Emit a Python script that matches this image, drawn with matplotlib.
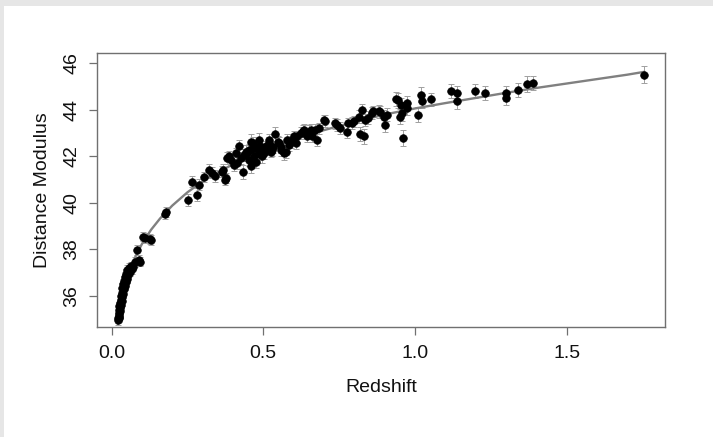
import matplotlib
matplotlib.use("Agg")
import matplotlib.pyplot as plt
from matplotlib.patches import Rectangle

plt.rcParams['font.family'] = ['Liberation Sans', 'DejaVu Sans']

# ---- data ----
redshift = [
    0.020, 0.022, 0.023, 0.024, 0.024, 0.025, 0.026, 0.026, 0.027, 0.028,
    0.029, 0.030, 0.031, 0.032, 0.033, 0.034, 0.035, 0.036, 0.037, 0.038,
    0.040, 0.041, 0.043, 0.044, 0.046, 0.048, 0.050, 0.052, 0.055, 0.057,
    0.060, 0.063, 0.066, 0.071, 0.076, 0.085, 0.090, 0.093, 0.104, 0.109,
    0.126, 0.129,
    0.175, 0.180, 0.251, 0.266, 0.282, 0.287, 0.304, 0.322, 0.330, 0.341,
    0.363, 0.366, 0.374, 0.377, 0.382, 0.388, 0.395, 0.404, 0.410, 0.415,
    0.420, 0.426, 0.432, 0.437, 0.443, 0.448, 0.452, 0.453, 0.459, 0.459,
    0.462, 0.465, 0.470, 0.475, 0.478, 0.481, 0.485, 0.486, 0.490, 0.497,
    0.500, 0.503, 0.508, 0.515, 0.519, 0.520, 0.525, 0.530, 0.532, 0.540,
    0.548, 0.552, 0.557, 0.560, 0.568, 0.574, 0.579, 0.585, 0.590, 0.596,
    0.601, 0.607, 0.612, 0.623, 0.630, 0.634, 0.645, 0.650, 0.656, 0.661,
    0.672, 0.678, 0.683, 0.699, 0.705, 0.738, 0.743, 0.754, 0.776, 0.780,
    0.792, 0.798, 0.814, 0.820, 0.825, 0.831, 0.836, 0.845, 0.858, 0.863,
    0.880, 0.885, 0.898, 0.902, 0.907, 0.938, 0.945, 0.951, 0.953, 0.956,
    0.962, 0.973, 0.973, 1.011, 1.019, 1.022, 1.054, 1.120, 1.140, 1.140,
    1.199, 1.230, 1.300, 1.300, 1.339, 1.368, 1.388, 1.755,
]
distance_modulus = [
    35.05, 34.95, 35.20, 35.05, 35.40, 35.25, 35.10, 35.55, 35.35, 35.70,
    35.50, 35.85, 35.60, 36.00, 35.80, 36.15, 35.95, 36.35, 36.10, 36.50,
    36.30, 36.65, 36.45, 36.80, 36.60, 36.95, 36.75, 37.10, 36.90, 37.20,
    37.05, 37.30, 37.15, 37.26, 37.45, 37.98, 37.55, 37.47, 38.55, 38.50,
    38.44, 38.40,
    39.50, 39.62, 40.13, 40.91, 40.34, 40.77, 41.10, 41.42, 41.30, 41.15,
    41.34, 41.42, 41.00, 41.06, 41.92, 41.99, 41.85, 41.63, 42.13, 41.70,
    42.42, 41.92, 41.31, 42.06, 42.20, 42.13, 41.85, 42.27, 41.56, 42.63,
    42.30, 42.56, 42.00, 41.75, 42.35, 42.27, 42.10, 42.70, 42.45, 41.99,
    42.25, 42.13, 42.42, 42.30, 42.70, 42.55, 42.20, 42.27, 42.40, 42.95,
    42.60, 42.56, 42.27, 42.40, 42.13, 42.20, 42.70, 42.49, 42.60, 42.70,
    42.85, 42.56, 42.85, 43.00, 43.10, 43.13, 42.85, 43.06, 43.13, 42.85,
    43.13, 42.70, 43.20, 43.56, 43.50, 43.42, 43.35, 43.20, 43.06, 43.42,
    43.42, 43.49, 43.70, 42.95, 43.99, 42.85, 43.56, 43.65, 43.85, 43.92,
    43.92, 43.88, 43.70, 43.35, 43.78, 44.45, 44.40, 43.70, 44.20, 43.85,
    42.78, 44.28, 44.07, 43.78, 44.64, 44.35, 44.45, 44.78, 44.70, 44.35,
    44.82, 44.71, 44.71, 44.50, 44.85, 45.10, 45.14, 45.50,
]
mu_error = [
    0.20, 0.18, 0.22, 0.17, 0.20, 0.19, 0.21, 0.18, 0.20, 0.17,
    0.19, 0.22, 0.18, 0.20, 0.21, 0.17, 0.19, 0.20, 0.18, 0.22,
    0.19, 0.20, 0.18, 0.21, 0.19, 0.20, 0.18, 0.22, 0.19, 0.20,
    0.21, 0.18, 0.20, 0.19, 0.22, 0.20, 0.21, 0.19, 0.20, 0.22,
    0.21, 0.20,
    0.20, 0.22, 0.25, 0.22, 0.28, 0.24, 0.22, 0.24, 0.22, 0.25,
    0.22, 0.24, 0.25, 0.23, 0.25, 0.22, 0.24, 0.26, 0.23, 0.25,
    0.28, 0.24, 0.30, 0.25, 0.26, 0.24, 0.27, 0.25, 0.30, 0.32,
    0.26, 0.28, 0.25, 0.27, 0.24, 0.26, 0.25, 0.28, 0.24, 0.26,
    0.25, 0.27, 0.24, 0.26, 0.25, 0.26, 0.24, 0.25, 0.26, 0.30,
    0.25, 0.26, 0.24, 0.25, 0.28, 0.26, 0.24, 0.25, 0.26, 0.24,
    0.25, 0.26, 0.24, 0.25, 0.26, 0.24, 0.25, 0.26, 0.24, 0.25,
    0.26, 0.25, 0.24, 0.22, 0.25, 0.24, 0.26, 0.25, 0.27, 0.24,
    0.26, 0.25, 0.27, 0.30, 0.26, 0.32, 0.25, 0.27, 0.26, 0.25,
    0.27, 0.26, 0.28, 0.30, 0.27, 0.30, 0.32, 0.31, 0.30, 0.33,
    0.35, 0.30, 0.31, 0.32, 0.31, 0.30, 0.28, 0.30, 0.31, 0.33,
    0.30, 0.29, 0.32, 0.31, 0.30, 0.33, 0.30, 0.36,
]
# fitted model curve
fit_redshift = [0.021, 0.025, 0.03, 0.04, 0.05, 0.06, 0.08, 0.10, 0.13, 0.16,
                0.20, 0.25, 0.30, 0.35, 0.40, 0.50, 0.60, 0.70, 0.80, 0.90,
                1.00, 1.10, 1.20, 1.30, 1.40, 1.50, 1.60, 1.70, 1.755]
fit_modulus = [34.80, 35.17, 35.57, 36.20, 36.69, 37.09, 37.73, 38.23, 38.84, 39.33,
               39.88, 40.45, 40.92, 41.31, 41.65, 42.23, 42.71, 43.12, 43.47, 43.79,
               44.05, 44.28, 44.50, 44.72, 44.93, 45.12, 45.31, 45.50, 45.62]

x_ticks = [0.0, 0.5, 1.0, 1.5]
x_tick_labels = ["0.0", "0.5", "1.0", "1.5"]
y_ticks = [36, 38, 40, 42, 44, 46]
y_tick_labels = ["36", "38", "40", "42", "44", "46"]

# ---- figure ----
W, H = 713, 437
fig = plt.figure(figsize=(W / 100, H / 100), dpi=100)
fig.patch.set_facecolor("white")
fig.patches.append(Rectangle((0, 1 - 6 / H), 1, 6 / H, transform=fig.transFigure,
                             facecolor="#e6e6e6", edgecolor="none", zorder=-5))
fig.patches.append(Rectangle((0, 0), 4 / W, 1, transform=fig.transFigure,
                             facecolor="#e6e6e6", edgecolor="none", zorder=-5))

ax = fig.add_axes([97 / W, 1 - 327 / H, (665 - 97) / W, (327 - 53) / H])

ax.errorbar(redshift, distance_modulus, yerr=mu_error, fmt="none",
            ecolor="#a0a0a0", elinewidth=0.7, capsize=2.5, capthick=0.7, zorder=2)
ax.plot(fit_redshift, fit_modulus, color="#808080", lw=1.7, zorder=3)
ax.plot(redshift, distance_modulus, "o", color="black", ms=5.5, mec="black",
        mew=0.5, zorder=4, linestyle="none")

ax.set_xlim(-0.048, 1.824)
ax.set_ylim(34.67, 46.43)
ax.set_xticks(x_ticks)
ax.set_xticklabels(x_tick_labels)
ax.set_yticks(y_ticks)
ax.set_yticklabels(y_tick_labels, rotation=90, va="center")

for s in ax.spines.values():
    s.set_color("#707070")
    s.set_linewidth(1.0)
ax.tick_params(axis="both", length=6, width=0.9, color="#707070",
               labelsize=14, labelcolor="#111111")
ax.tick_params(axis="x", pad=7)
ax.tick_params(axis="y", pad=6)

ax.set_xlabel("Redshift", fontsize=14, color="#111111", labelpad=12)
ax.set_ylabel("Distance Modulus", fontsize=14, color="#111111", labelpad=9)

fig.savefig("out.png", dpi=100)
